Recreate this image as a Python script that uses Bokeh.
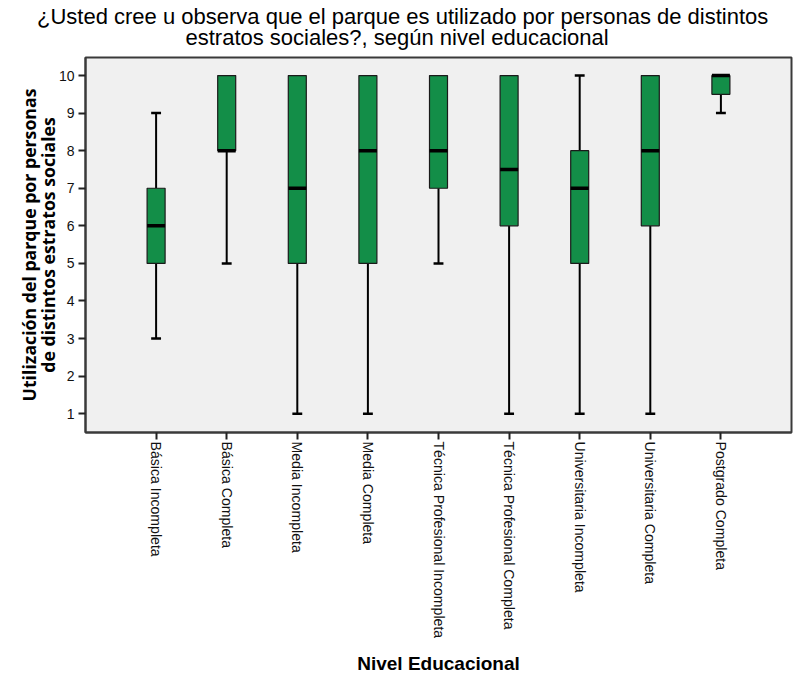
import math
from bokeh.plotting import figure
from bokeh.models import Range1d, FixedTicker, Title
from bokeh.embed import file_html
from bokeh.resources import INLINE

categories = ["Básica Incompleta", "Básica Completa", "Media Incompleta", "Media Completa",
              "Técnica Profesional Incompleta", "Técnica Profesional Completa",
              "Universitaria Incompleta", "Universitaria Completa", "Postgrado Completa"]
whisker_low = [3, 5, 1, 1, 5, 1, 1, 1, 9]
q1 = [5, 8, 5, 5, 7, 6, 5, 6, 9.5]
median = [6, 8, 7, 8, 8, 7.5, 7, 8, 10]
q3 = [7, 10, 10, 10, 10, 10, 8, 10, 10]
whisker_high = [9, 10, 10, 10, 10, 10, 10, 10, 10]
y_ticks = [1, 2, 3, 4, 5, 6, 7, 8, 9, 10]

xs = list(range(1, len(categories) + 1))
box_w = 0.255
cap_w = 0.14
green = "#138e48"
font = "Liberation Sans"

p = figure(width=795, height=677, output_backend="svg", toolbar_location=None,
           x_range=Range1d(0, 10), y_range=Range1d(0.5, 10.48),
           min_border_left=85, min_border_right=4, min_border_top=57, min_border_bottom=243)
p.background_fill_color = "#f0f0f0"
p.border_fill_color = "white"
p.outline_line_color = "#3a3a3a"
p.outline_line_width = 2
p.xgrid.visible = False
p.ygrid.visible = False

# whiskers
lo_x = [x for x, a, b in zip(xs, whisker_low, q1) if a < b]
lo_a = [a for a, b in zip(whisker_low, q1) if a < b]
lo_b = [b for a, b in zip(whisker_low, q1) if a < b]
hi_x = [x for x, a, b in zip(xs, whisker_high, q3) if a > b]
hi_a = [a for a, b in zip(whisker_high, q3) if a > b]
hi_b = [b for a, b in zip(whisker_high, q3) if a > b]
p.segment(x0=lo_x, y0=lo_a, x1=lo_x, y1=lo_b, line_color="black", line_width=2)
p.segment(x0=hi_x, y0=hi_a, x1=hi_x, y1=hi_b, line_color="black", line_width=2)
p.segment(x0=[x - cap_w / 2 for x in lo_x], y0=lo_a, x1=[x + cap_w / 2 for x in lo_x], y1=lo_a,
          line_color="black", line_width=2.5)
p.segment(x0=[x - cap_w / 2 for x in hi_x], y0=hi_a, x1=[x + cap_w / 2 for x in hi_x], y1=hi_a,
          line_color="black", line_width=2.5)

# boxes
p.vbar(x=xs, width=box_w, bottom=q1, top=q3, fill_color=green, line_color="#1a1a1a", line_width=1.2)
# medians
p.segment(x0=[x - box_w / 2 for x in xs], y0=median, x1=[x + box_w / 2 for x in xs], y1=median,
          line_color="black", line_width=3.5)

# axes
p.xaxis.ticker = FixedTicker(ticks=xs)
p.xaxis.major_label_overrides = {x: c for x, c in zip(xs, categories)}
p.xaxis.major_label_orientation = -math.pi / 2
p.xaxis.minor_tick_line_color = None
p.yaxis.ticker = FixedTicker(ticks=y_ticks)
p.yaxis.minor_tick_line_color = None
for ax in (p.xaxis[0], p.yaxis[0]):
    ax.major_label_text_font = font
    ax.major_label_text_color = "#111111"
    ax.major_tick_line_color = "#222222"
    ax.major_tick_line_width = 2
    ax.major_tick_out = 7
    ax.major_tick_in = 0
    ax.axis_line_color = "#3a3a3a"
    ax.axis_line_width = 2
    ax.axis_label_text_font_style = "bold"
    ax.axis_label_text_color = "black"
p.xaxis.major_label_standoff = 2
p.yaxis.major_label_standoff = 4
p.xaxis.major_label_text_font_size = "14.1px"
p.yaxis.major_label_text_font_size = "14px"

p.xaxis.axis_label = "Nivel Educacional"
p.xaxis.axis_label_text_font = font
p.xaxis.axis_label_text_font_size = "19px"
p.xaxis.axis_label_standoff = 12
p.yaxis.axis_label = "Utilización del parque por personas\nde distintos estratos sociales"
p.yaxis.axis_label_text_font = "Open Sans"
p.yaxis.axis_label_text_font_size = "17.7px"
p.yaxis.axis_label_text_line_height = 0.8
p.yaxis.axis_label_standoff = -4

# two-line title
t2 = Title(text="estratos sociales?, según nivel educacional", align="left", offset=100,
           text_font=font, text_font_size="22px", text_font_style="normal", text_color="black",
           standoff=14.6)
t1 = Title(text="¿Usted cree u observa que el parque es utilizado por personas de distintos",
           align="left", offset=-48.5,
           text_font=font, text_font_size="22px", text_font_style="normal", text_color="black",
           standoff=-27)
p.add_layout(t2, "above")
p.add_layout(t1, "above")

open("out.html", "w").write(file_html(p, INLINE))
